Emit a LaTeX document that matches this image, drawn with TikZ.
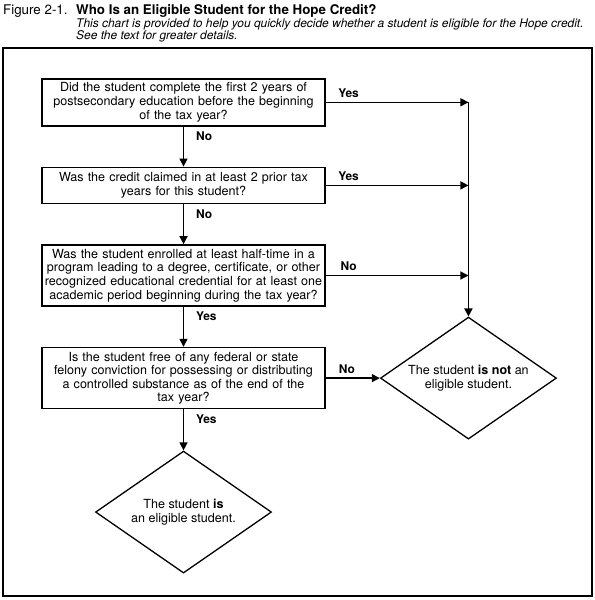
\documentclass[tikz,border=0pt]{standalone}
\usepackage{fontspec}
\setmainfont{TeX Gyre Heros}
\usetikzlibrary{arrows.meta,positioning,shapes.geometric}
\tikzset{>={Triangle[length=8bp,width=8bp]}}

\begin{document}
\begin{tikzpicture}[x=1bp,y=-1bp]
	\tikzset{qblock/.style={draw, shape=rectangle, line width=1.6bp, align=center, text width=279bp, inner xsep=2bp, inner ysep=2bp, font=\fontsize{12.6}{13.6}\selectfont},
		dblock/.style={draw, diamond, aspect=1.44, line width=1.3bp, minimum width=176bp, minimum height=122bp, inner sep=0pt, align=center, font=\fontsize{12.6}{13.6}\selectfont},
		lbl/.style={font=\fontsize{12}{13}\selectfont\bfseries, inner sep=1bp},
		flow/.style={->, line width=1.3bp}
	}
	\useasboundingbox (0,0) rectangle (595,600);
	\draw[line width=1.3bp] (3,48) rectangle (592,596);
	% heading
	\node [anchor=base west, inner sep=0pt, font=\fontsize{13.4}{15}\selectfont] (fig) at (3,15) {Figure 2-1.};
	\node [anchor=base west, inner sep=0pt, font=\fontsize{13.4}{15}\selectfont\bfseries] (title) at (76,15) {Who Is an Eligible Student for the Hope Credit?};
	\node [anchor=base west, inner sep=0pt, font=\fontsize{12}{13}\selectfont\itshape] (sub1) at (76,27.5) {This chart is provided to help you quickly decide whether a student is eligible for the Hope credit.};
	\node [anchor=base west, inner sep=0pt, font=\fontsize{12}{13}\selectfont\itshape] (sub2) at (76,40) {See the text for greater details.};
	% questions
	\node [qblock, minimum height=47bp, anchor=north] (q1) at (183.5,78) {Did the student complete the first 2 years of\\ postsecondary education before the beginning\\ of the tax year?};
	\node [qblock, minimum height=36bp, below=40bp of q1] (q2) {Was the credit claimed in at least 2 prior tax\\ years for this student?};
	\node [qblock, minimum height=61bp, below=40bp of q2] (q3) {Was the student enrolled at least half-time in a\\ program leading to a degree, certificate, or other\\ recognized educational credential for at least one\\ academic period beginning during the tax year?};
	\node [qblock, minimum height=61bp, below=40bp of q3] (q4) {Is the student free of any federal or state\\ felony conviction for possessing or distributing\\ a controlled substance as of the end of the\\ tax year?};
	\node [dblock, right=54bp of q4] (noteligible) {The student \textbf{is not} an\\ eligible student.};
	\node [dblock, below=41bp of q4] (eligible) {The student \textbf{is}\\ an eligible student.};
	\coordinate (join) at (q1.east -| noteligible.north);
	% connectors
	\draw [flow] (q1) -- node [lbl, pos=.25, right=11bp] {No} (q2);
	\draw [flow] (q2) -- node [lbl, pos=.25, right=11bp] {No} (q3);
	\draw [flow] (q3) -- node [lbl, pos=.23, right=11bp] {Yes} (q4);
	\draw [flow] (q4) -- node [lbl, pos=.24, right=11bp] {Yes} (eligible);
	\draw [flow] (q1.east) -- node [lbl, pos=.16, above=3bp] {Yes} (join);
	\draw [flow] (q2.east) -- node [lbl, pos=.16, above=3bp] {Yes} (q2.east -| join);
	\draw [flow] (q3.east) -- node [lbl, pos=.16, above=3bp] {No} (q3.east -| join);
	\draw [flow] (q4) -- node [lbl, pos=.39, above=3bp] {No} (noteligible);
	\draw [flow, line width=1.8bp] (join) -- (noteligible.north);
\end{tikzpicture}
\end{document}
